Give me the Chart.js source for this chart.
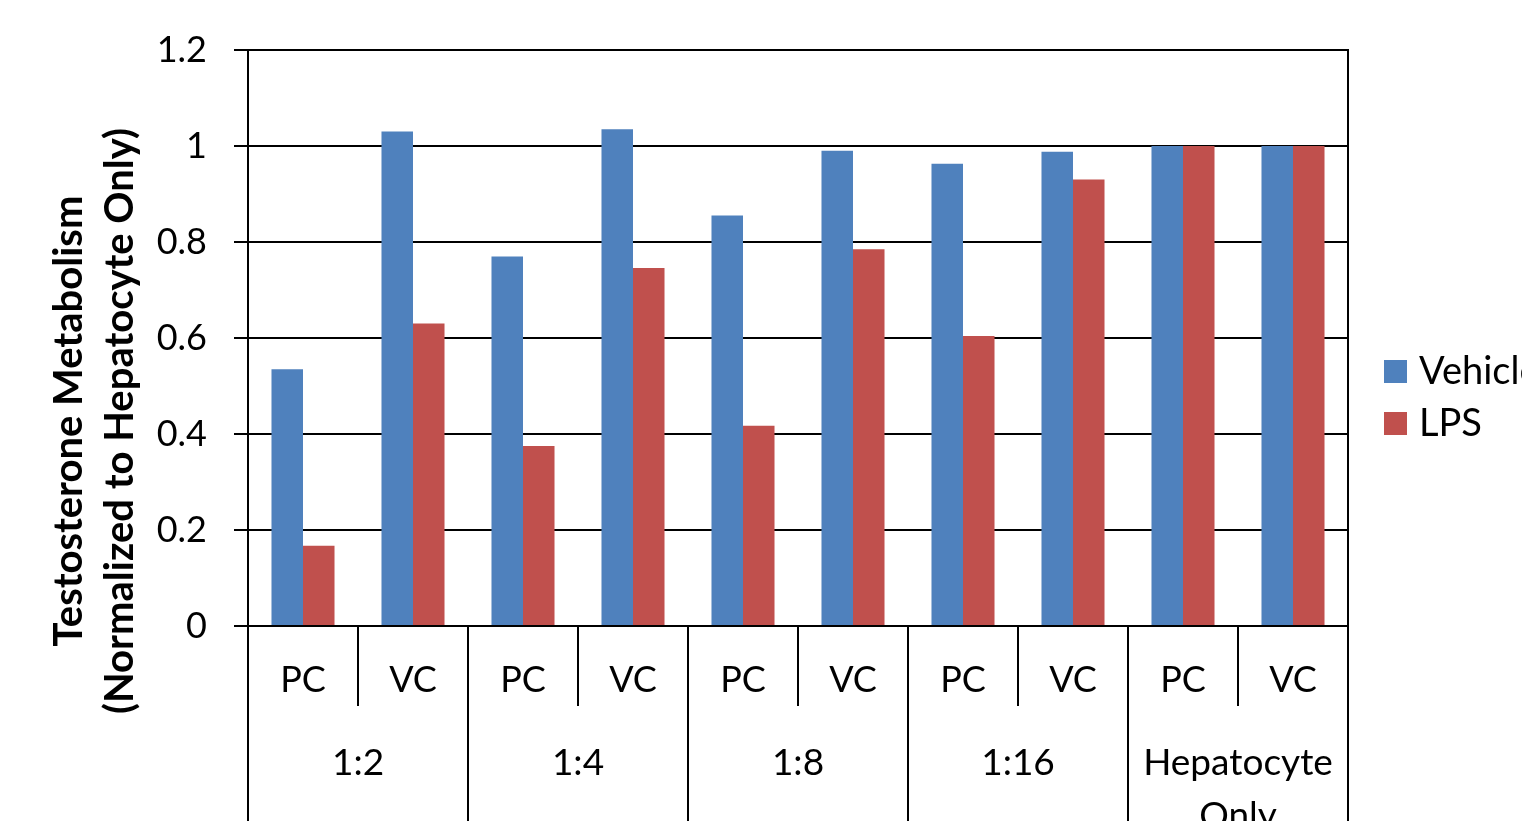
<!DOCTYPE html>
<html>
<head>
<meta charset="utf-8">
<title>Testosterone Metabolism</title>
<script src="https://cdn.jsdelivr.net/npm/chart.js@4/dist/chart.umd.min.js"></script>
<style>
  html, body { margin: 0; padding: 0; background: #ffffff; overflow: hidden; }
  #wrap { width: 1522px; height: 821px; position: relative; }
</style>
</head>
<body>
<div id="wrap"><canvas id="chart" width="1522" height="821"></canvas></div>
<script>
// Co-culture ratio groups (outer axis level) and culture types (inner level)
const ratioGroups = ['1:2', '1:4', '1:8', '1:16', ['Hepatocyte', 'Only']];
const cultureTypes = ['PC', 'VC', 'PC', 'VC', 'PC', 'VC', 'PC', 'VC', 'PC', 'VC'];

// Normalized testosterone metabolism per condition
const vehicleValues = [0.535, 1.03, 0.77, 1.035, 0.855, 0.99, 0.963, 0.988, 1.0, 1.0];
const lpsValues     = [0.167, 0.63, 0.375, 0.746, 0.417, 0.785, 0.604, 0.93, 1.0, 1.0];

// Value axis ticks
const yTickValues = [0, 0.2, 0.4, 0.6, 0.8, 1.0, 1.2];
const yTickLabels = ['0', '0.2', '0.4', '0.6', '0.8', '1', '1.2'];

const seriesNames = ['Vehicle', 'LPS'];
const seriesColors = ['#4F81BD', '#C0504D'];

const yTitle = ['Testosterone Metabolism', '(Normalized to Hepatocyte Only)'];

const FONT = 'Lato, "Open Sans", sans-serif';

// Two-line rotated value-axis title
const axisTitle = {
  id: 'axisTitle',
  afterDraw(chart) {
    const { ctx, chartArea } = chart;
    const cy = chartArea.top + 371;
    ctx.save();
    ctx.font = 'bold 40px ' + FONT;
    ctx.fillStyle = '#000000';
    ctx.textAlign = 'center';
    ctx.textBaseline = 'alphabetic';
    yTitle.forEach((line, i) => {
      ctx.save();
      ctx.translate(82 + i * 51, cy);
      ctx.rotate(-Math.PI / 2);
      ctx.fillText(line, 0, 0);
      ctx.restore();
    });
    ctx.restore();
  }
};

// Legend drawn at the right of the plot area
const sideLegend = {
  id: 'sideLegend',
  afterDraw(chart) {
    const { ctx, chartArea } = chart;
    ctx.save();
    ctx.font = '38px ' + FONT;
    ctx.textBaseline = 'middle';
    ctx.textAlign = 'left';
    chart.data.datasets.forEach((ds, i) => {
      const cy = chartArea.top + 321 + i * 52;
      ctx.fillStyle = ds.backgroundColor;
      ctx.fillRect(chartArea.right + 36, cy - 11, 23, 23);
      ctx.fillStyle = '#000000';
      ctx.fillText(ds.label, chartArea.right + 71, cy + 1);
    });
    ctx.restore();
  }
};

new Chart(document.getElementById('chart'), {
  type: 'bar',
  data: {
    labels: cultureTypes,
    datasets: [
      { label: seriesNames[0], data: vehicleValues, backgroundColor: seriesColors[0] },
      { label: seriesNames[1], data: lpsValues, backgroundColor: seriesColors[1] }
    ]
  },
  options: {
    responsive: false,
    devicePixelRatio: 1,
    animation: false,
    categoryPercentage: 0.573,
    barPercentage: 1.0,
    layout: { padding: { top: 50, right: 174, left: 0, bottom: 0 } },
    plugins: {
      legend: { display: false },
      tooltip: { enabled: false }
    },
    scales: {
      x: {
        type: 'category',
        position: 'bottom',
        weight: 0,
        offset: true,
        grid: {
          display: true, drawOnChartArea: false, drawTicks: true, offset: true,
          tickLength: 80, color: '#000000', lineWidth: 2
        },
        border: { display: true, color: '#000000', width: 2 },
        ticks: {
          font: { family: FONT, size: 36 }, color: '#000000',
          padding: -47, autoSkip: false, maxRotation: 0, minRotation: 0
        },
        afterFit(scale) { scale.height = 80; }
      },
      x2: {
        type: 'category',
        labels: ratioGroups,
        position: 'bottom',
        weight: 1,
        offset: true,
        grid: {
          display: true, drawOnChartArea: false, drawTicks: true, offset: true,
          tickLength: 120, color: '#000000', lineWidth: 2
        },
        border: { display: false },
        ticks: {
          font: { family: FONT, size: 37, lineHeight: 1.45 }, color: '#000000',
          padding: -90, autoSkip: false, maxRotation: 0, minRotation: 0
        },
        afterFit(scale) { scale.height = 115; }
      },
      y: {
        position: 'left',
        min: 0,
        max: 1.2,
        ticks: {
          stepSize: 0.2,
          font: { family: FONT, size: 36 }, color: '#000000',
          padding: 27,
          callback(value) {
            const i = yTickValues.findIndex(t => Math.abs(t - value) < 1e-9);
            return i >= 0 ? yTickLabels[i] : '';
          }
        },
        grid: { color: '#000000', lineWidth: 2, tickLength: 14 },
        border: { display: true, color: '#000000', width: 2 },
        title: { display: false },
        afterFit(scale) { scale.width = 248; }
      },
      yR: {
        position: 'right',
        min: 0,
        max: 1.2,
        ticks: { display: false },
        grid: { display: false },
        border: { display: true, color: '#000000', width: 2 },
        afterFit(scale) { scale.width = 0; }
      }
    }
  },
  plugins: [axisTitle, sideLegend]
});
</script>
</body>
</html>
